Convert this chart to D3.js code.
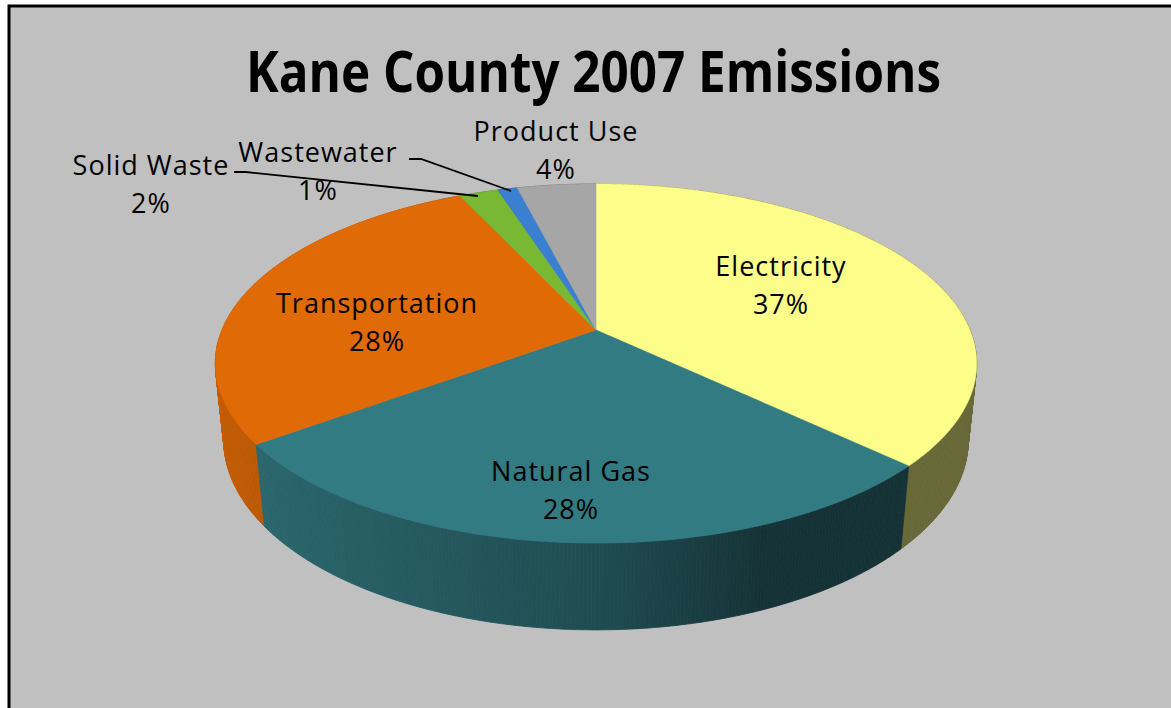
<!DOCTYPE html>
<html>
<head>
<meta charset="utf-8">
<script src="https://cdn.jsdelivr.net/npm/d3@7"></script>
<style>
  html, body { margin: 0; padding: 0; background: #ffffff; }
  svg { display: block; }
  text { font-family: "Open Sans", "Noto Sans", sans-serif; fill: #000; }
</style>
</head>
<body>
<svg id="chart" width="1171" height="708"></svg>
<script>
// Emission shares by sector (percent of total)
const categories = ["Electricity", "Natural Gas", "Transportation", "Solid Waste", "Wastewater", "Product Use"];
const shares = [37, 28, 28, 2, 1, 4];
const topColors = ["#fdfd89", "#337b83", "#e06a06", "#78b832", "#3a7fd0", "#a6a6a6"];

// Label placement for each sector (first-line center x / baseline y)
const labelLayout = {
  "Electricity":    { x: 781, y: 276 },
  "Natural Gas":    { x: 571, y: 481 },
  "Transportation": { x: 377, y: 313 },
  "Solid Waste":    { x: 151, y: 175 },
  "Wastewater":     { x: 318, y: 162 },
  "Product Use":    { x: 556, y: 141 }
};
// Leader lines for the small outside labels
const leaders = {
  "Solid Waste": [[234, 172], [246, 172], [478, 196]],
  "Wastewater":  [[409, 159], [421, 159], [511, 191]]
};

const svg = d3.select("#chart");

// chart area with border
svg.append("rect")
  .attr("x", 9).attr("y", 6)
  .attr("width", 1200).attr("height", 800)
  .attr("fill", "#c0c0c0")
  .attr("stroke", "#000").attr("stroke-width", 3);

svg.append("text")
  .attr("x", 593.5).attr("y", 92)
  .attr("text-anchor", "middle")
  .attr("font-size", 58).attr("font-weight", 700)
  .attr("textLength", 695).attr("lengthAdjust", "spacingAndGlyphs")
  .text("Kane County 2007 Emissions");

// perspective view of a disc lying flat, seen from above the front
const persp = 0.1867;   // foreshortening front/back
const drop = 0.022;     // convergence of the rim downward
const thick = 77.2 / 173.3; // rim thickness relative to the depth radius
const xScale = d3.scaleLinear().domain([-1, 1]).range([596 - 374, 596 + 374]);
const yScale = d3.scaleLinear().domain([-1, 1]).range([330 - 173.3, 330 + 173.3]);

function project(angle, r, h) {
  const u = r * Math.sin(angle);
  const v = -r * Math.cos(angle);
  const w = 1 - persp * v + drop * h;
  return [xScale(u / w), yScale((v + thick * h) / w)];
}

const arcs = d3.pie().sort(null).value(d => d)(shares);

// rim shading: lit from the left, darker toward the right
function rimFactor(u) {
  const f = u < 0 ? 0.62 - 0.27 * u : 0.62 - 0.55 * u;
  return Math.max(0.41, f);
}
function shade(hex, f) {
  const c = d3.rgb(hex);
  return d3.rgb(c.r * f, c.g * f, c.b * f).formatHex();
}

// rim facets, painted back to front
const step = Math.PI / 360;
const facets = [];
arcs.forEach((a, i) => {
  const n = Math.max(1, Math.ceil((a.endAngle - a.startAngle) / step));
  for (let j = 0; j < n; j++) {
    const a0 = a.startAngle + (a.endAngle - a.startAngle) * j / n;
    const a1 = a.startAngle + (a.endAngle - a.startAngle) * (j + 1) / n;
    const am = (a0 + a1) / 2;
    facets.push({
      pts: [project(a0, 1, 0), project(a1, 1, 0), project(a1, 1, 1), project(a0, 1, 1)],
      depth: -Math.cos(am),
      fill: shade(topColors[i], rimFactor(Math.sin(am)))
    });
  }
});
facets.sort((p, q) => p.depth - q.depth);

const line = d3.line();
svg.append("g").selectAll("path").data(facets).join("path")
  .attr("d", d => line(d.pts) + "Z")
  .attr("fill", d => d.fill)
  .attr("stroke", d => d.fill)
  .attr("stroke-width", 0.8);

// top faces
svg.append("g").selectAll("path").data(arcs).join("path")
  .attr("d", a => {
    const pts = [project(0, 0, 0)];
    const n = Math.max(2, Math.ceil((a.endAngle - a.startAngle) / (step / 2)));
    for (let j = 0; j <= n; j++) {
      pts.push(project(a.startAngle + (a.endAngle - a.startAngle) * j / n, 1, 0));
    }
    return line(pts) + "Z";
  })
  .attr("fill", (a, i) => topColors[i])
  .attr("stroke", (a, i) => topColors[i])
  .attr("stroke-width", 0.6);

// leader lines
svg.append("g").selectAll("path").data(Object.values(leaders)).join("path")
  .attr("d", d => line(d))
  .attr("fill", "none")
  .attr("stroke", "#000")
  .attr("stroke-width", 1.8);

// data labels: category and share
const total = d3.sum(shares);
const pct = d3.format(".0%");
const labels = svg.append("g").selectAll("text").data(categories).join("text")
  .attr("text-anchor", "middle")
  .attr("font-size", 27)
  .attr("letter-spacing", 1);
labels.append("tspan")
  .attr("x", d => labelLayout[d].x)
  .attr("y", d => labelLayout[d].y)
  .text(d => d);
labels.append("tspan")
  .attr("x", d => labelLayout[d].x)
  .attr("y", d => labelLayout[d].y + 38)
  .text((d, i) => pct(shares[i] / total));
</script>
</body>
</html>
